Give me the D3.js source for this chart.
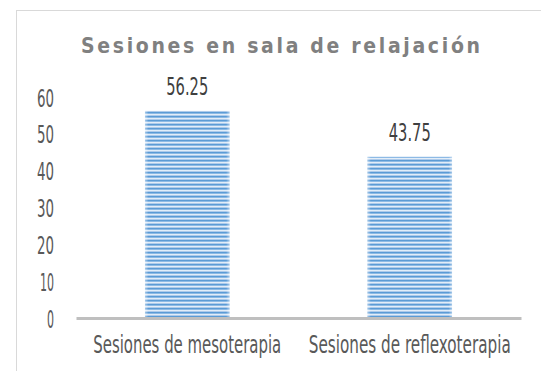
<!DOCTYPE html>
<html>
<head>
<meta charset="utf-8">
<script src="https://cdn.jsdelivr.net/npm/d3@7"></script>
<style>
  html, body { margin: 0; padding: 0; background: #ffffff; }
  svg { display: block; }
  text { font-family: "Liberation Sans Narrow", "DejaVu Sans Condensed", "Roboto", sans-serif; }
</style>
</head>
<body>
<svg id="chart" width="541" height="371"></svg>
<script>
// Chart data
const chartTitle = "Sesiones en sala de relajación";
const categories = ["Sesiones de mesoterapia", "Sesiones de reflexoterapia"];
const values = [56.25, 43.75];
const yTicks = [0, 10, 20, 30, 40, 50, 60];

const svg = d3.select("#chart");

// Outer frame of the chart area
svg.append("rect")
  .attr("x", 16.5).attr("y", 10.5)
  .attr("width", 700).attr("height", 500)
  .attr("fill", "#ffffff")
  .attr("stroke", "#d9d9d9").attr("stroke-width", 1);

// Striped fill for the bars
const defs = svg.append("defs");
const pat = defs.append("pattern")
  .attr("id", "stripes")
  .attr("patternUnits", "userSpaceOnUse")
  .attr("width", 8).attr("height", 4);
[["#5b9bd5", 0], ["#8dbae5", 1], ["#e2edf8", 2], ["#aecbeb", 3]].forEach(([c, yy]) => {
  pat.append("rect").attr("x", 0).attr("y", yy).attr("width", 8).attr("height", 1).attr("fill", c);
});
const edge = defs.append("linearGradient").attr("id", "edgeFade")
  .attr("x1", "0").attr("x2", "1").attr("y1", "0").attr("y2", "0");
[[0, 0.45], [0.04, 0.0], [0.96, 0.0], [1, 0.45]].forEach(([o, a]) => {
  edge.append("stop").attr("offset", o).attr("stop-color", "#ffffff").attr("stop-opacity", a);
});

// Scales
const x = d3.scaleBand()
  .domain(categories)
  .range([76, 521])
  .paddingInner(0.62)
  .paddingOuter(0.31);

const y = d3.scaleLinear()
  .domain([0, 60])
  .range([318, 97]);

// Title
svg.append("text")
  .attr("x", 81).attr("y", 53)
  .attr("font-size", 21)
  .attr("font-weight", "bold")
  .attr("fill", "#808080")
  .attr("textLength", 399)
  .attr("lengthAdjust", "spacing")
  .text(chartTitle);

// Bars
const bars = svg.append("g");
values.forEach((v, i) => {
  const c = categories[i];
  bars.append("rect")
    .attr("x", x(c)).attr("y", y(v))
    .attr("width", x.bandwidth()).attr("height", y(0) - y(v))
    .attr("fill", "url(#stripes)");
  bars.append("rect")
    .attr("x", x(c)).attr("y", y(v))
    .attr("width", x.bandwidth()).attr("height", y(0) - y(v))
    .attr("fill", "url(#edgeFade)");
});

// Condensed text: fix each label to a given width
function fit(sel, widthFn) {
  sel.attr("textLength", widthFn).attr("lengthAdjust", "spacingAndGlyphs");
}

// Value labels
const vl = svg.append("g").selectAll("text")
  .data(values)
  .join("text")
  .attr("x", (d, i) => x(categories[i]) + x.bandwidth() / 2)
  .attr("y", d => y(d) - 16)
  .attr("text-anchor", "middle")
  .attr("font-size", 25)
  .attr("fill", "#404040")
  .text(d => d.toFixed(2));
fit(vl, 42);

// Y axis (labels only)
const yAxis = svg.append("g")
  .attr("transform", "translate(54,0)")
  .call(d3.axisLeft(y).tickValues(yTicks).tickSize(0).tickPadding(0).tickFormat(d3.format("d")));
yAxis.select(".domain").remove();
yAxis.selectAll("text")
  .attr("font-size", 25)
  .attr("fill", "#595959")
  .attr("dy", "0.36em");
fit(yAxis.selectAll("text"), d => d === 0 ? 7 : (d === 10 ? 14 : 17));

// X axis with baseline; category labels drawn small and stretched tall
const xAxis = svg.append("g")
  .attr("transform", `translate(0,${y(0)})`)
  .call(d3.axisBottom(x).tickSize(0).tickSizeOuter(0).tickPadding(0));
xAxis.select(".domain")
  .attr("stroke", "#bfbfbf")
  .attr("stroke-width", 3);
xAxis.selectAll("text")
  .attr("y", 0)
  .attr("dy", 0)
  .attr("transform", "translate(0,35) scale(1,1.35)")
  .attr("font-size", 18)
  .attr("fill", "#595959");
fit(xAxis.selectAll("text"), (d, i) => i === 0 ? 188 : 202);
</script>
</body>
</html>
